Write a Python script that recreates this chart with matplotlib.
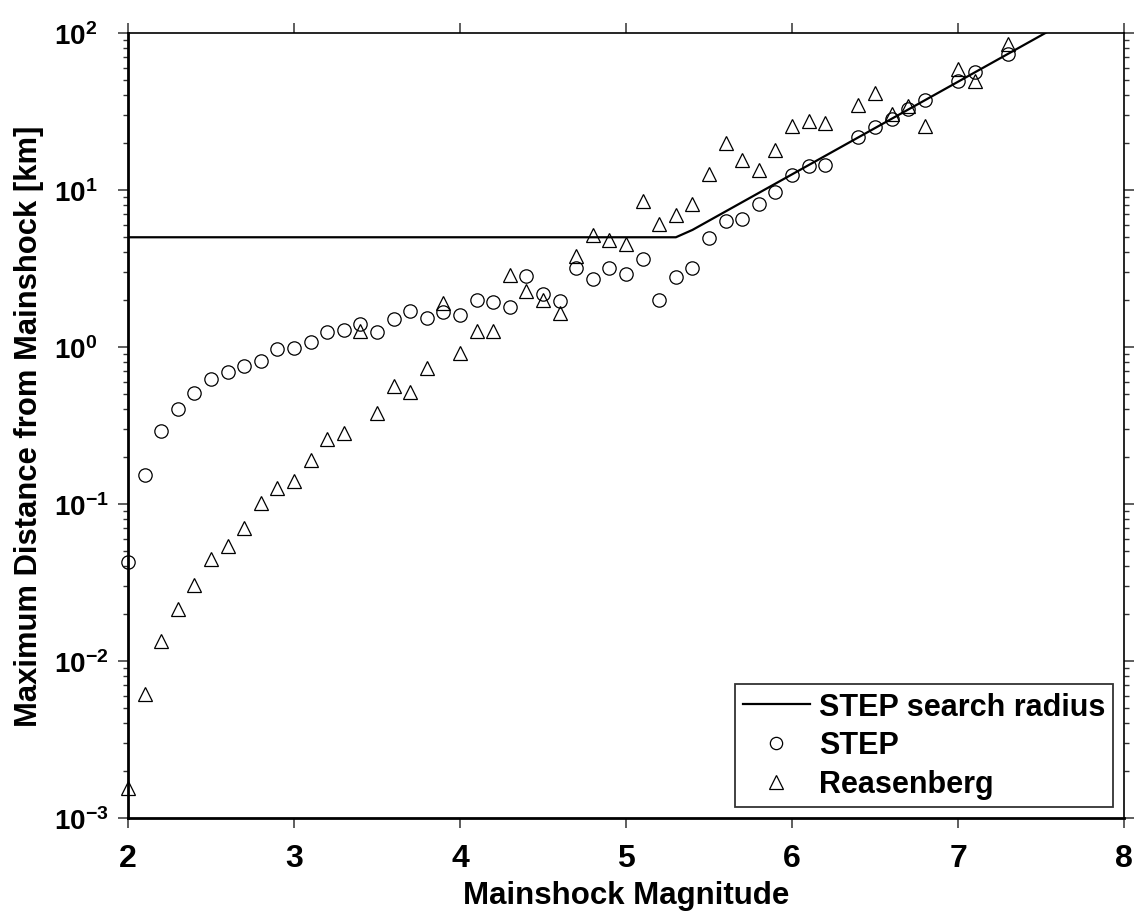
import math
import matplotlib
matplotlib.use("Agg")
import matplotlib.pyplot as plt
from matplotlib.ticker import FixedLocator, FuncFormatter, LogLocator, NullFormatter

plt.rcParams['font.family'] = ['Liberation Sans', 'DejaVu Sans']
plt.rcParams['font.weight'] = 'bold'
plt.rcParams['mathtext.fontset'] = 'custom'
plt.rcParams['mathtext.rm'] = 'Liberation Sans:bold'
plt.rcParams['mathtext.bf'] = 'Liberation Sans:bold'
plt.rcParams['mathtext.it'] = 'Liberation Sans:bold'
plt.rcParams['mathtext.sf'] = 'Liberation Sans:bold'

# STEP search radius: constant 5 km, then rupture-length scaling
radius_mag = [2.0, 5.3, 5.4, 8.0]
radius_km = [5.0, 5.0, 5.57, 190.5]

# Maximum aftershock distance per mainshock magnitude, STEP declustering
step_mag = [2.0, 2.1, 2.2, 2.3, 2.4, 2.5, 2.6, 2.7, 2.8, 2.9,
            3.0, 3.1, 3.2, 3.3, 3.4, 3.5, 3.6, 3.7, 3.8, 3.9,
            4.0, 4.1, 4.2, 4.3, 4.4, 4.5, 4.6, 4.7, 4.8, 4.9,
            5.0, 5.1, 5.2, 5.3, 5.4, 5.5, 5.6, 5.7, 5.8, 5.9,
            6.0, 6.1, 6.2, 6.4, 6.5, 6.6, 6.7, 6.8, 7.0, 7.1, 7.3]
step_km = [0.043, 0.152, 0.29, 0.40, 0.51, 0.63, 0.69, 0.76, 0.82, 0.97,
           0.99, 1.08, 1.25, 1.28, 1.40, 1.24, 1.50, 1.69, 1.54, 1.67,
           1.61, 1.98, 1.94, 1.79, 2.83, 2.17, 1.96, 3.20, 2.73, 3.20,
           2.90, 3.62, 1.98, 2.79, 3.20, 4.92, 6.35, 6.50, 8.18, 9.66,
           12.5, 14.2, 14.5, 21.8, 25.2, 28.2, 33.0, 37.2, 49.4, 56.5, 74.0]

# Same quantity, Reasenberg declustering
reas_mag = step_mag
reas_km = [0.00155, 0.0062, 0.0134, 0.0214, 0.0305, 0.0446, 0.0543, 0.0708, 0.102, 0.1265,
           0.140, 0.190, 0.261, 0.283, 1.26, 0.380, 0.565, 0.520, 0.740, 1.90,
           0.92, 1.26, 1.26, 2.86, 2.29, 1.99, 1.65, 3.80, 5.14, 4.81,
           4.56, 8.51, 6.11, 6.93, 8.18, 12.7, 19.8, 15.6, 13.4, 18.0,
           25.5, 27.7, 26.6, 34.8, 41.7, 30.3, 34.5, 25.6, 58.7, 49.4, 84.7]

x_ticks = [2, 3, 4, 5, 6, 7, 8]
y_decades = [-3, -2, -1, 0, 1, 2]

fig = plt.figure(figsize=(11.41, 9.12), dpi=100)
ax = fig.add_axes([0.1122, 0.1020, 0.8730, 0.8607])

ax.plot(radius_mag, radius_km, color='black', lw=1.6, label='STEP search radius', zorder=3)
ax.plot(step_mag, step_km, ls='none', marker='o', ms=9.6, mfc='none', mec='black',
        mew=0.9, label='STEP', clip_on=False, zorder=4)
ax.plot(reas_mag, reas_km, ls='none', marker='^', ms=10.2, mfc='none', mec='black',
        mew=0.9, label='Reasenberg', clip_on=False, zorder=4)

ax.set_yscale('log')
ax.set_xlim(2, 8)
ax.set_ylim(1e-3, 1e2)

ax.xaxis.set_major_locator(FixedLocator(x_ticks))
ax.yaxis.set_major_locator(FixedLocator([10.0 ** d for d in y_decades]))
ax.yaxis.set_minor_locator(LogLocator(base=10, subs=range(2, 10), numticks=20))
ax.yaxis.set_minor_formatter(NullFormatter())
ax.yaxis.set_major_formatter(FuncFormatter(lambda v, p: r'$10^{%d}$' % round(math.log10(v))))

ax.tick_params(axis='both', which='major', direction='out', length=7.5, width=1.1,
               top=True, right=True, color='#333333')
ax.tick_params(axis='y', which='minor', direction='out', length=3.8, width=1.0,
               left=True, right=True, color='#333333')
ax.tick_params(axis='x', which='major', labelsize=23, pad=10.5)
# decade labels start at a common left edge
ax.tick_params(axis='y', which='major', labelsize=20, pad=45.5)
for lab in ax.get_yticklabels():
    lab.set_horizontalalignment('left')

for side in ('left', 'bottom'):
    ax.spines[side].set_linewidth(2.0)
for side in ('top', 'right'):
    ax.spines[side].set_linewidth(1.2)

ax.set_xlabel('Mainshock Magnitude', fontsize=22.5, fontweight='bold')
ax.set_ylabel('Maximum Distance from Mainshock [km]', fontsize=22.3, fontweight='bold')
ax.xaxis.set_label_coords(0.5, -0.0786)
ax.yaxis.set_label_coords(-0.084, 0.5)

leg = ax.legend(loc='lower right', bbox_to_anchor=(1.0, 0.0), borderaxespad=0.36,
                frameon=True, fancybox=False, edgecolor='black',
                handlelength=2.2, handletextpad=0.3, borderpad=0.25,
                labelspacing=0.29, markerscale=0.92, prop={'weight': 'bold', 'size': 22})
leg.get_frame().set_linewidth(1.3)

fig.savefig('out.png', dpi=100)
